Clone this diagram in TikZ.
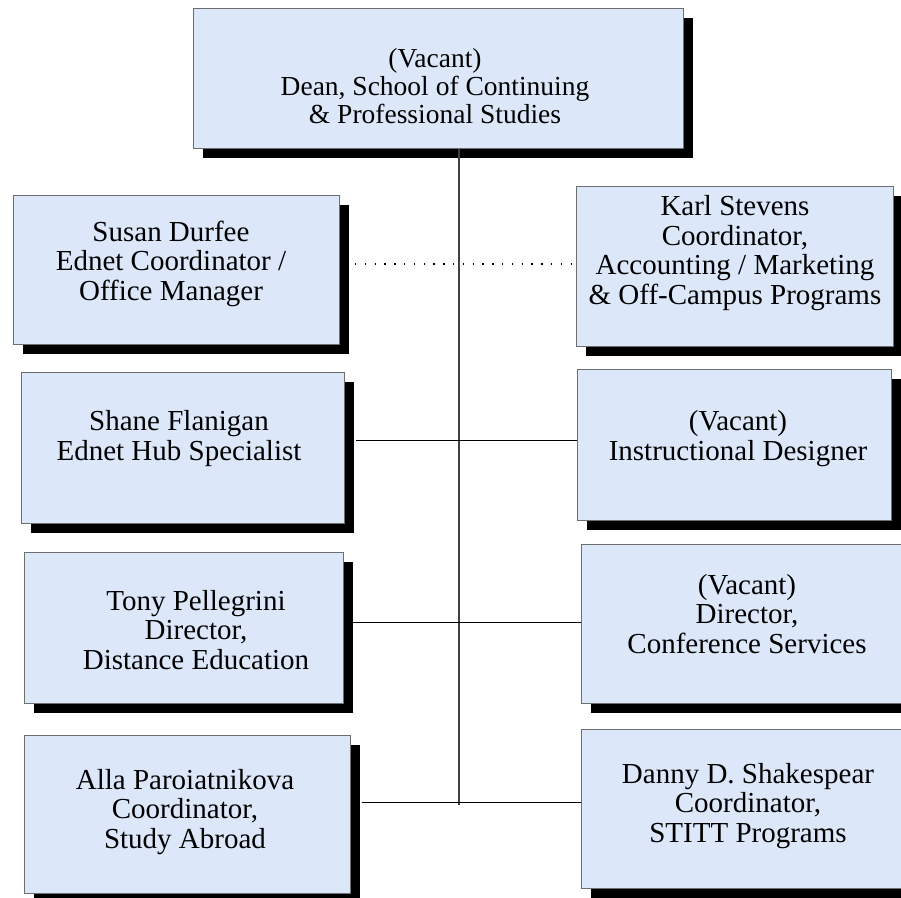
\documentclass[tikz,border=0pt]{standalone}
\usepackage{fontspec}
\setmainfont{Liberation Serif}
\usetikzlibrary{shadows}
\definecolor{boxfill}{RGB}{220,232,250}
\definecolor{boxline}{RGB}{110,110,110}
\tikzset{
  orgbox/.style={draw=boxline, line width=0.9pt, fill=boxfill, anchor=north west, inner sep=0pt,
    general shadow={fill=black, shadow xshift=10pt, shadow yshift=-10pt}},
  orgtext/.style={align=center, anchor=base, inner sep=0pt, font=\fontsize{29}{29.5}\selectfont},
  deantext/.style={orgtext, font=\fontsize{27.5}{28}\selectfont},
  link/.style={draw=black, line width=1pt},
  trunk/.style={draw=black!75, line width=1.3pt},
  dotlink/.style={draw=black, line width=1.4pt, dash pattern=on 1.4pt off 8.4pt},
}
\begin{document}
\begin{tikzpicture}[x=1pt,y=1pt]
\useasboundingbox (0,0) rectangle (901,-897);
% connector end points
\coordinate (trunkend) at (459,-805);
\coordinate (dotstart) at (355,-264);
\coordinate (l1) at (356,-440);
\coordinate (l2) at (353,-622);
\coordinate (l3) at (362,-802);
% boxes
\node[orgbox, minimum width=490pt, minimum height=140pt] (dean) at (193,-8) {};
\node[orgbox, minimum width=326pt, minimum height=149pt] (susan) at (13,-195) {};
\node[orgbox, minimum width=317pt, minimum height=160pt] (karl) at (576,-186) {};
\node[orgbox, minimum width=323pt, minimum height=151pt] (shane) at (21,-372) {};
\node[orgbox, minimum width=314pt, minimum height=151pt] (instr) at (577,-369) {};
\node[orgbox, minimum width=319pt, minimum height=151pt] (tony) at (24,-552) {};
\node[orgbox, minimum width=334pt, minimum height=159pt] (conf) at (581,-544) {};
\node[orgbox, minimum width=326pt, minimum height=158pt] (alla) at (24,-735) {};
\node[orgbox, minimum width=334pt, minimum height=159pt] (danny) at (581,-729) {};
% lines
\draw[trunk] (dean.south -| trunkend) -- (trunkend);
\draw[dotlink] (dotstart) -- (dotstart -| karl.west);
\draw[link] (l1) -- (l1 -| instr.west);
\draw[link] (l2) -- (l2 -| conf.west);
\draw[link] (l3) -- (l3 -| danny.west);
% texts (anchored at the baseline of the last line)
\node[deantext] (dean-t) at (435,-123) {(Vacant)\\Dean, School of Continuing\\\& Professional Studies};
\node[orgtext] (susan-t) at (171,-300) {Susan Durfee\\Ednet Coordinator /\\Office Manager};
\node[orgtext] (karl-t) at (735,-304) {Karl Stevens\\Coordinator,\\Accounting / Marketing\\\& Off-Campus Programs};
\node[orgtext] (shane-t) at (179,-460) {Shane Flanigan\\Ednet Hub Specialist};
\node[orgtext] (instr-t) at (738,-460) {(Vacant)\\Instructional Designer};
\node[orgtext] (tony-t) at (196,-669) {Tony Pellegrini\\Director,\\Distance Education};
\node[orgtext] (conf-t) at (747,-653) {(Vacant)\\Director,\\Conference Services};
\node[orgtext] (alla-t) at (185,-848) {Alla Paroiatnikova\\Coordinator,\\Study Abroad};
\node[orgtext] (danny-t) at (748,-842) {Danny D. Shakespear\\Coordinator,\\STITT Programs};
\end{tikzpicture}
\end{document}
